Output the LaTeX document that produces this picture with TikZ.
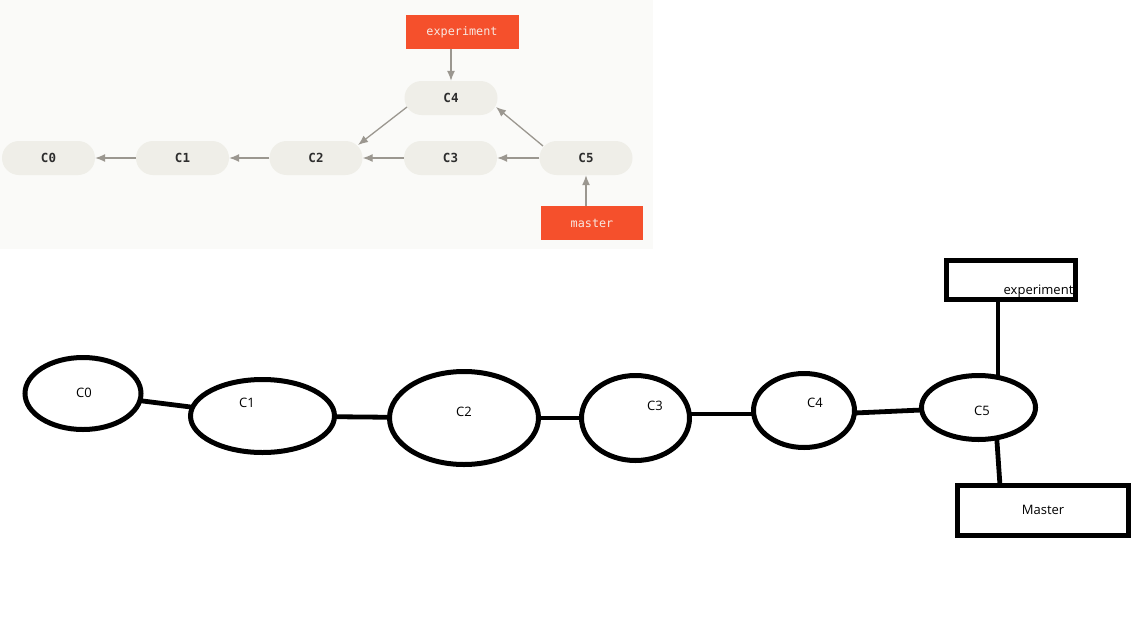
\documentclass[tikz,border=0pt]{standalone}
\usepackage{fontspec}
\setmainfont{Open Sans}
\newfontfamily\monofont{DejaVu Sans Mono}
\usetikzlibrary{shapes.geometric,arrows.meta}
\definecolor{bgtop}{RGB}{250,250,248}
\definecolor{commitfill}{RGB}{239,238,232}
\definecolor{arrowgray}{RGB}{155,151,144}
\definecolor{gitred}{RGB}{245,80,44}
\definecolor{labelwhite}{RGB}{248,232,225}
\definecolor{committext}{RGB}{45,45,45}
\begin{document}
\begin{tikzpicture}[x=1pt,y=-1pt,
  commit/.style={rectangle, rounded corners=17pt, fill=commitfill, minimum width=93pt, minimum height=34pt, inner sep=0pt, font=\monofont\bfseries\fontsize{12.5}{14}\selectfont, text=committext},
  branch/.style={rectangle, fill=gitred, inner sep=0pt, font=\monofont\fontsize{11.8}{14}\selectfont, text=labelwhite},
  garrow/.style={draw=arrowgray, line width=1.3pt, -{Latex[length=10pt,width=8pt]}},
  sketchell/.style={ellipse, draw=black, line width=5pt, inner sep=0pt, outer sep=0pt},
  sketchbox/.style={rectangle, draw=black, line width=5pt, inner sep=0pt, outer sep=0pt},
  sketchline/.style={draw=black, line width=4.8pt},
  sketchtext/.style={inner sep=0pt, font=\fontsize{13}{15}\selectfont, text=black}
]
\useasboundingbox[fill=white] (0,0) rectangle (1145,616);
\fill[bgtop] (0,0) rectangle (653,249);

% ---- top: reference git diagram ----
\node[commit] (c0) at (48.5,158) {C0};
\node[commit] (c1) at (182.5,158) {C1};
\node[commit] (c2) at (316,158) {C2};
\node[commit] (c3) at (450.5,158) {C3};
\node[commit] (c4) at (451,98) {C4};
\node[commit] (c5) at (586,158) {C5};
\node[branch, minimum width=113pt, minimum height=34pt] (exp) at (462,32) {experiment};
\node[branch, minimum width=102pt, minimum height=34pt] (mas) at (592,223) {master};

\draw[garrow] (c1.west) -- (c0.east);
\draw[garrow] (c2.west) -- (c1.east);
\draw[garrow] (c3.west) -- (c2.east);
\draw[garrow] (c5.west) -- (c3.east);
\draw[garrow] ([shift={(-44,9)}]c4.center) -- ([shift={(42,-13)}]c2.center);
\draw[garrow] ([shift={(-43,-12)}]c5.center) -- ([shift={(45,9)}]c4.center);
\draw[garrow] (c4.north |- exp.south) -- (c4.north);
\draw[garrow] (c5.south |- mas.north) -- (c5.south);

% ---- bottom: hand sketch ----
\node[sketchell, minimum width=116pt, minimum height=72pt] (e0) at (83,393.5) {};
\node[sketchell, minimum width=144pt, minimum height=73pt] (e1) at (262.5,416) {};
\node[sketchell, minimum width=149pt, minimum height=93pt] (e2) at (464,418) {};
\node[sketchell, minimum width=108pt, minimum height=85pt] (e3) at (635.5,418) {};
\node[sketchell, minimum width=101pt, minimum height=74pt] (e4) at (804,410.5) {};
\node[sketchell, minimum width=114pt, minimum height=64pt] (e5) at (978.5,407.5) {};
\node[sketchbox, minimum width=129pt, minimum height=39pt] (bx) at (1011,280) {};
\node[sketchbox, minimum width=171pt, minimum height=50pt] (bm) at (1043,510.5) {};

\node[sketchtext] (t0) at (84,393) {C0};
\node[sketchtext] (t1) at (247,403) {C1};
\node[sketchtext] (t2) at (464,412) {C2};
\node[sketchtext] (t3) at (655,406) {C3};
\node[sketchtext] (t4) at (815,403) {C4};
\node[sketchtext] (t5) at (982,411) {C5};
\node[sketchtext] (tx) at (1038.5,291) {experiment};
\node[sketchtext] (tm) at (1043,510) {Master};

\draw[sketchline] (e0) -- (e1);
\draw[sketchline] (e1) -- (e2);
\draw[sketchline] (e2) -- (e3);
\draw[sketchline] ([yshift=4pt]e3.east) -- ([yshift=-3.5pt]e4.west);
\draw[sketchline] ([yshift=-2.5pt]e4.east) -- ([yshift=-2.5pt]e5.west);
\draw[sketchline] (e5.57) -- (e5.57 |- bx.south);
\draw[sketchline] (e5.-59) -- ([xshift=-43pt]bm.north);
\end{tikzpicture}
\end{document}
